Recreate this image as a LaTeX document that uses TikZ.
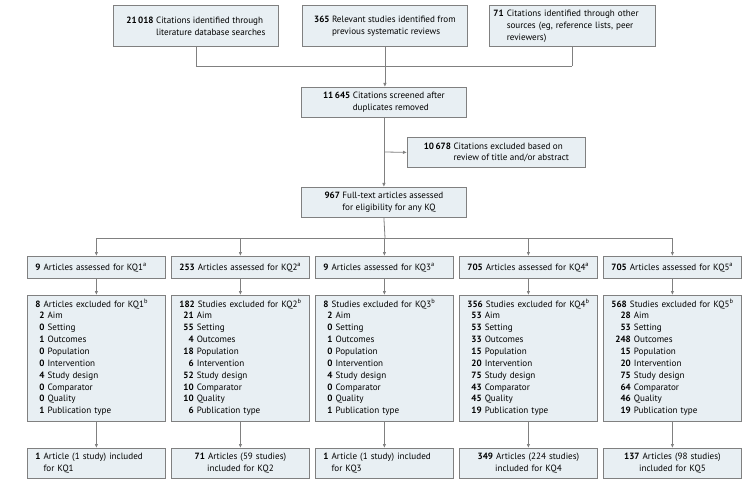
\documentclass[tikz,border=0pt]{standalone}
\usepackage{fontspec}
\setmainfont{PT Sans}
\usetikzlibrary{arrows.meta,positioning}
\definecolor{boxFill}{RGB}{232,239,243}
\definecolor{boxLine}{RGB}{128,128,128}

\newcommand{\exlist}[9]{%
  \hspace*{8pt}\begin{tabular}{@{}r@{\ }l@{}}
  \textbf{#1} & Aim\\ \textbf{#2} & Setting\\ \textbf{#3} & Outcomes\\
  \textbf{#4} & Population\\ \textbf{#5} & Intervention\\ \textbf{#6} & Study design\\
  \textbf{#7} & Comparator\\ \textbf{#8} & Quality\\ \textbf{#9} & Publication type
  \end{tabular}}

\begin{document}
\begin{tikzpicture}[
  x=1pt, y=-1pt,
  font=\fontsize{9.1}{11.9}\selectfont,
  box/.style = {rectangle, draw=boxLine, fill=boxFill, line width=0.8pt,
                align=left, inner sep=4pt},
  line/.style = {draw=boxLine, line width=0.8pt},
  arr/.style = {line, -{Latex[length=4pt,width=3.5pt]}}
]
\useasboundingbox (0,0) rectangle (751,486);

% Sources
\node[box, minimum width=165pt, minimum height=41pt, anchor=north west] (src1) at (113,5)
  {\textbf{21\,018} Citations identified through\\\phantom{\textbf{21\,018}} literature database searches};
\node[box, minimum width=165pt, minimum height=41pt, anchor=north west] (src2) at (302,5)
  {\textbf{365} Relevant studies identified from\\\phantom{\textbf{365}} previous systematic reviews};
\node[box, minimum width=166pt, minimum height=41pt, anchor=north west, text width=158pt] (src3) at (489,5)
  {\textbf{71} Citations identified through other\\ \phantom{\textbf{71}} sources (eg, reference lists, peer\\ \phantom{\textbf{71}} reviewers)};

% Screening
\node[box, minimum width=165pt, minimum height=30pt, anchor=north west] (scr) at (301,87)
  {\textbf{11\,645} Citations screened after\\\phantom{\textbf{11\,645}} duplicates removed};
\node[box, minimum width=178pt, minimum height=30pt, anchor=north west] (exc) at (407,137)
  {\textbf{10\,678} Citations excluded based on\\\phantom{\textbf{10\,678}} review of title and/or abstract};
\node[box, minimum width=165pt, minimum height=30pt, anchor=north west] (full) at (301,187)
  {\textbf{967} Full-text articles assessed\\\phantom{\textbf{967}} for eligibility for any KQ};

\coordinate (join) at (385,66);
\coordinate (excp) at (385,152);
\coordinate (split) at (385,238);

\draw[line] (src1.south |- join) -- (src3.south |- join);
\draw[line] (src1.south) -- (src1.south |- join);
\draw[line] (src3.south) -- (src3.south |- join);
\draw[arr] (src2.south) -- (scr.north -| src2.south);
\draw[arr] (scr.south) -- (full.north -| scr.south);
\draw[arr] (excp) -- (exc.west);
\draw[line] (96,238) -- (672,238);
\draw[line] (full.south) -- (split);

% Key question columns
\foreach \k/\xl/\na/\ne/\wh/\li/\al/\inc in {
  1/27/9/8/Articles/{2}{0}{1}{0}{0}{4}{0}{0}{1}/left/{\hspace*{4pt}\textbf{1} Article (1 study) included\\\hspace*{4pt}\phantom{\textbf{1}} for KQ1},
  2/171/253/182/Studies/{21}{55}{4}{18}{6}{52}{10}{10}{6}/center/{\textbf{71} Articles (59 studies)\\included for KQ2},
  3/315/9/8/Studies/{2}{0}{1}{0}{0}{4}{0}{0}{1}/left/{\hspace*{4pt}\textbf{1} Article (1 study) included\\\hspace*{4pt}\phantom{\textbf{1}} for KQ3},
  4/459/705/356/Studies/{53}{53}{33}{15}{20}{75}{43}{45}{19}/center/{\textbf{349} Articles (224 studies)\\included for KQ4},
  5/603/705/568/Studies/{28}{53}{248}{15}{20}{75}{64}{46}{19}/center/{\textbf{137} Articles (98 studies)\\included for KQ5}}
{
  \node[box, minimum width=138pt, text width=130pt, minimum height=22pt, anchor=north west] (kqa\k) at (\xl,256)
    {\hspace*{4pt}\textbf{\na} Articles assessed for KQ\k\textsuperscript{a}};
  \node[box, minimum width=138pt, text width=130pt, minimum height=103pt, anchor=north west] (kqe\k) at (\xl,295)
    {\hspace*{4pt}\textbf{\ne} \wh\ excluded for KQ\k\textsuperscript{b}\\ \expandafter\exlist\li};
  \node[box, align=\al, minimum width=138pt, text width=130pt, minimum height=30pt, anchor=north west] (kqi\k) at (\xl,448)
    {\inc};
  \draw[arr] (kqa\k.north |- split) -- (kqa\k.north);
  \draw[arr] (kqa\k.south) -- (kqe\k.north);
  \draw[arr] (kqe\k.south) -- (kqi\k.north);
}
\end{tikzpicture}
\end{document}
